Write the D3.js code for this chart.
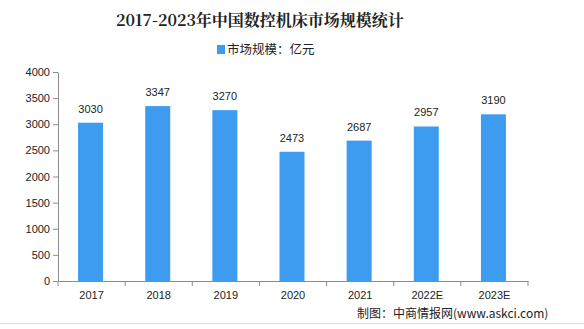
<!DOCTYPE html>
<html><head><meta charset="utf-8">
<script src="https://cdn.jsdelivr.net/npm/d3@7"></script>
<style>body{margin:0;background:#fff}svg{display:block}</style>
</head><body><svg id="c" width="584" height="329"></svg>
<script>
const categories = ["2017","2018","2019","2020","2021","2022E","2023E"];
const values = [3030,3347,3270,2473,2687,2957,3190];
const yTicks = [0,500,1000,1500,2000,2500,3000,3500,4000];
const title = "2017-2023年中国数控机床市场规模统计";
const legendLabel = "市场规模：亿元";
const source = "制图：中商情报网(www.askci.com)";

const svg = d3.select("#c");
const m = {l:58, r:56, t:72, b:48};
const W = 584, H = 329;
const x = d3.scaleBand().domain(categories).range([m.l, W - m.r]).padding(0);
const y = d3.scaleLinear().domain([0,4000]).range([H - m.b, m.t]);
const color = "#3d9cf0";
const axisColor = "#8c8c8c";
const font = "'Liberation Sans', Arial, sans-serif";

svg.append("text").attr("x", 260).attr("y", 26).attr("text-anchor","middle")
  .attr("font-family","'Noto Serif CJK SC','Noto Sans CJK SC',serif").attr("font-weight","bold")
  .attr("font-size",16).attr("fill","#222").text(title);

svg.append("rect").attr("x",217).attr("y",45).attr("width",8).attr("height",9).attr("fill",color);
svg.append("text").attr("x",227).attr("y",54).attr("font-family","'Noto Sans CJK SC',sans-serif")
  .attr("font-size",12.5).attr("fill","#222").text(legendLabel);

const gy = svg.append("g").attr("transform",`translate(${m.l},0)`)
  .call(d3.axisLeft(y).tickValues(yTicks).tickFormat(d3.format("d")).tickSize(5).tickSizeOuter(0).tickPadding(3));
gy.selectAll("path,line").attr("stroke",axisColor);
gy.selectAll("text").attr("font-family",font).attr("font-size",11).attr("fill","#222");

const gx = svg.append("g").attr("transform",`translate(0,${H - m.b})`)
  .call(d3.axisBottom(x).tickSize(0).tickPadding(10));
gx.select("path").attr("stroke",axisColor);
gx.selectAll("text").attr("font-family",font).attr("font-size",11).attr("fill","#222");
const edges = categories.map(c => x(c)).concat([x(categories[categories.length-1]) + x.bandwidth()]);
gx.selectAll("line.edge").data(edges).enter().append("line").attr("class","edge")
  .attr("x1",d=>d).attr("x2",d=>d).attr("y1",0).attr("y2",5).attr("stroke",axisColor);

const bw = 25;
svg.selectAll("rect.bar").data(values).enter().append("rect").attr("class","bar")
  .attr("x",(d,i)=>x(categories[i]) + x.bandwidth()/2 - bw/2 - 1)
  .attr("width",bw).attr("y",d=>y(d)).attr("height",d=>y(0)-y(d)).attr("fill",color);

svg.selectAll("text.lbl").data(values).enter().append("text").attr("class","lbl")
  .attr("x",(d,i)=>x(categories[i]) + x.bandwidth()/2 - 1).attr("y",d=>y(d)-10)
  .attr("text-anchor","middle").attr("font-family",font).attr("font-size",11).attr("fill","#222")
  .text(d=>d);

svg.append("text").attr("x",357).attr("y",318).attr("font-family","'Noto Sans CJK SC',sans-serif")
  .attr("font-size",12).attr("fill","#222").text(source);
svg.append("line").attr("x1",0).attr("x2",W).attr("y1",323.5).attr("y2",323.5).attr("stroke","#ddd");
</script></body></html>
